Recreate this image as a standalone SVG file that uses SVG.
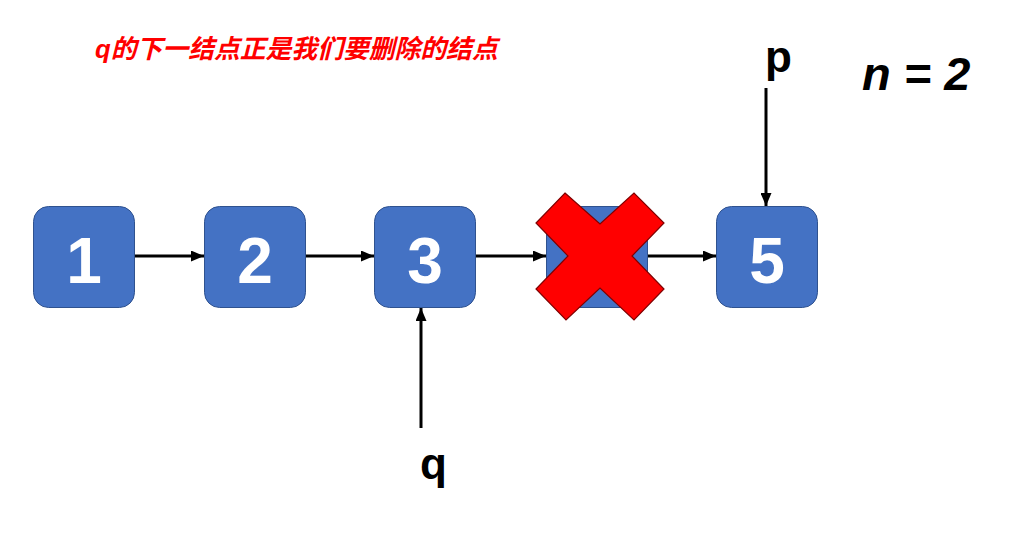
<svg xmlns="http://www.w3.org/2000/svg" width="1024" height="541" viewBox="0 0 1024 541">
  <style>
    .box { fill: #4472C4; stroke: #2F528F; stroke-width: 1; }
    .num { font-family: "Liberation Sans", Arial, sans-serif; font-weight: bold; font-size: 64px; fill: #FFFFFF; text-anchor: middle; }
    .lbl { font-family: "Liberation Sans", Arial, sans-serif; font-weight: bold; font-size: 44px; fill: #000000; }
    .conn { stroke: #000000; stroke-width: 3; fill: none; marker-end: url(#arrow); }
    .title { font-family: "Liberation Sans", "Noto Sans CJK SC", sans-serif; font-weight: bold; font-style: italic; font-size: 25.8px; fill: #FF0000; }
    .nlabel { font-family: "Liberation Sans", Arial, sans-serif; font-weight: bold; font-style: italic; font-size: 47px; fill: #000000; }
  </style>
  <defs>
    <marker id="arrow" markerUnits="userSpaceOnUse" markerWidth="13" markerHeight="11" refX="13" refY="5.5" orient="auto">
      <path d="M0,0 L13,5.5 L0,11 Z" fill="#000000"/>
    </marker>
  </defs>
  <rect width="1024" height="541" fill="#FFFFFF"/>

  <text class="title" x="95" y="58">q的下一结点正是我们要删除的结点</text>
  <text class="nlabel" x="862" y="90">n = 2</text>

  <g id="node1">
    <rect class="box" x="33.5" y="206.5" width="101" height="101" rx="15"/>
    <text class="num" x="84" y="283">1</text>
  </g>
  <g id="node2">
    <rect class="box" x="204.5" y="206.5" width="101" height="101" rx="15"/>
    <text class="num" x="255" y="283">2</text>
  </g>
  <g id="node3">
    <rect class="box" x="374.5" y="206.5" width="101" height="101" rx="15"/>
    <text class="num" x="425" y="283">3</text>
  </g>
  <g id="node4">
    <rect class="box" x="546.5" y="206.5" width="101" height="101" rx="15"/>
  </g>
  <g id="node5">
    <rect class="box" x="716.5" y="206.5" width="101" height="101" rx="15"/>
    <text class="num" x="767" y="283">5</text>
  </g>

  <g id="label-p">
    <text class="lbl" x="765" y="72">p</text>
  </g>
  <g id="label-q">
    <text class="lbl" x="420" y="479">q</text>
  </g>

  <g id="connectors">
    <line class="conn" x1="135" y1="256" x2="204" y2="256"/>
    <line class="conn" x1="306" y1="256" x2="374" y2="256"/>
    <line class="conn" x1="476" y1="256" x2="546" y2="256"/>
    <line class="conn" x1="648" y1="256" x2="716" y2="256"/>
    <line class="conn" x1="766" y1="88" x2="766" y2="206"/>
    <line class="conn" x1="421" y1="428" x2="421" y2="308"/>
  </g>

  <g id="cross">
    <polygon points="565,193 600,224 634,193 664,223 632,256 664,289 634,320 600,288 566,320 536,289 568,256 536,223" fill="#FF0000" stroke="#7F0000" stroke-width="1.2"/>
  </g>
</svg>
